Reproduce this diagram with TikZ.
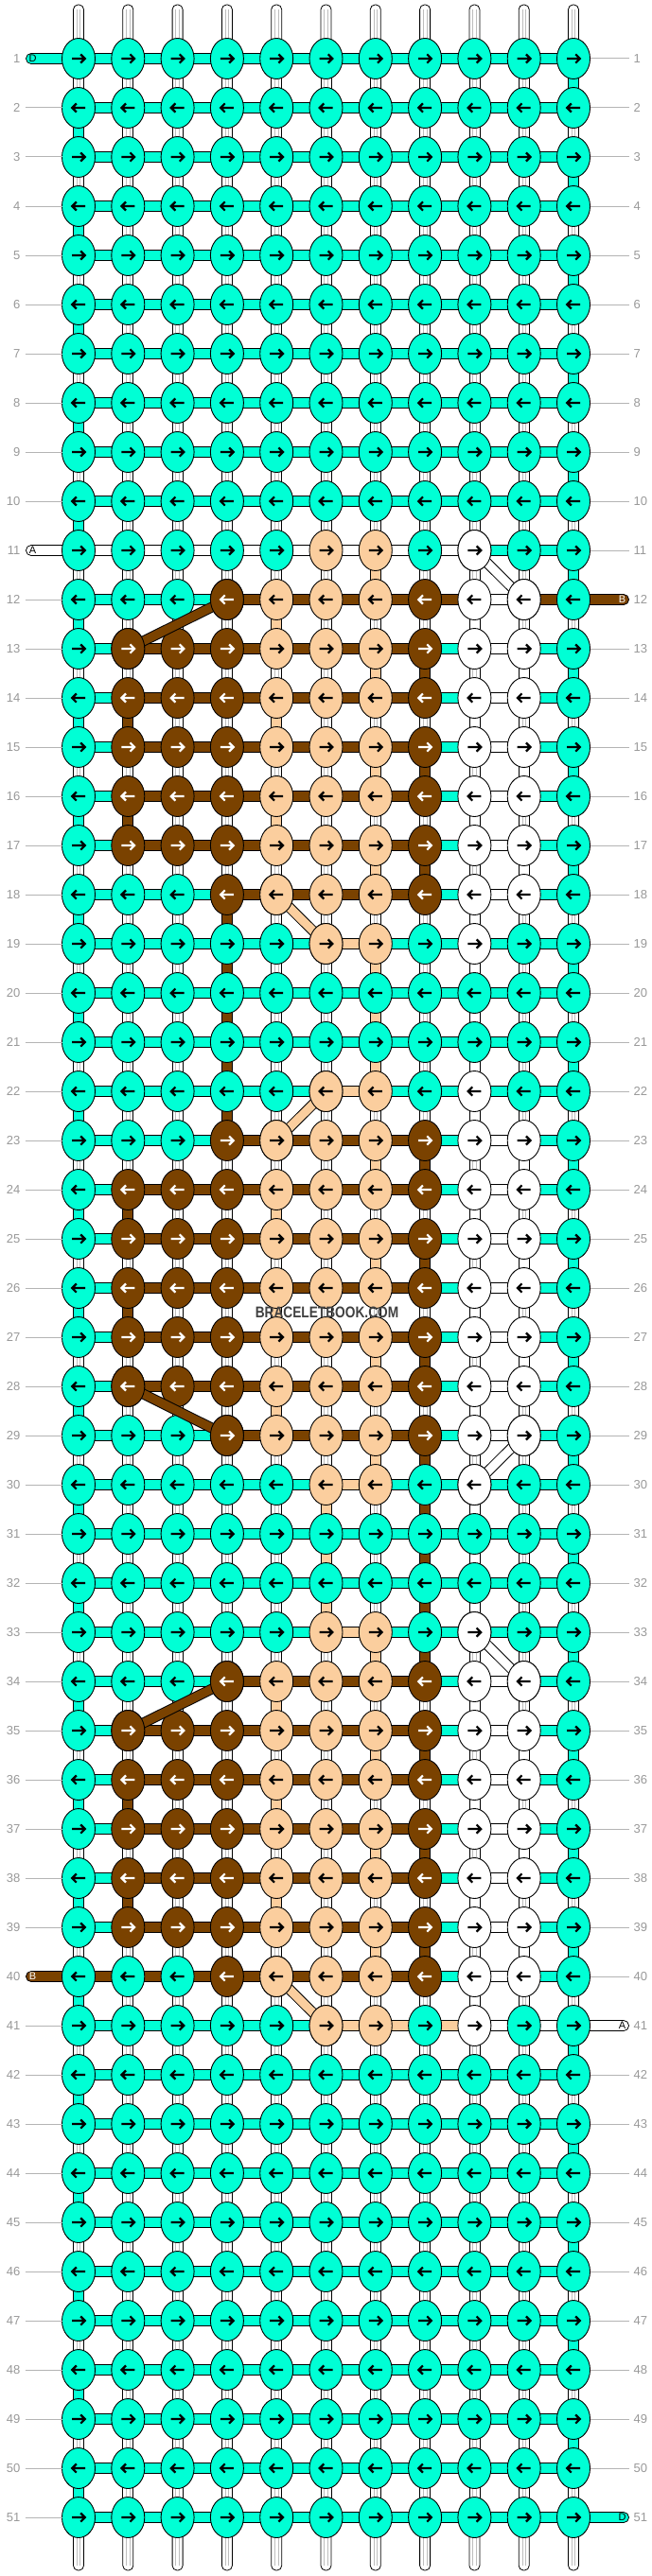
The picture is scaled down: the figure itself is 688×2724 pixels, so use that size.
\documentclass[tikz,border=0pt]{standalone}
\usepackage{fontspec}
\setmainfont{Liberation Sans}
\usetikzlibrary{shapes.geometric,calc}
\definecolor{colc}{HTML}{00FFD5}
\definecolor{colb}{HTML}{7A4200}
\definecolor{colp}{HTML}{FBCE9E}
\definecolor{colw}{HTML}{FFFFFF}
\colorlet{colC}{colc}\colorlet{colB}{colb}\colorlet{colP}{colp}\colorlet{colW}{colw}
\definecolor{labgray}{HTML}{999999}
\definecolor{linegray}{HTML}{B4B4B4}
\definecolor{tubegray}{HTML}{BDBDBD}
\definecolor{wmark}{HTML}{404040}

\def\KC{C,C,C,C,C,C,C,C,C,C,C}
\def\KA{C,C,C,C,C,P,P,C,W,C,C}
\def\KB{C,C,C,B,P,P,P,B,W,W,C}
\def\KD{C,B,B,B,P,P,P,B,W,W,C}
\def\HC{c,c,c,c,c,c,c,c,c,c}
\def\HE{w,w,w,w,w,w,w,w,c,c}
\def\HT{c,c,c,b,b,b,b,b,w,b}
\def\HD{c,b,b,b,b,b,b,c,w,c}
\def\HB{c,c,c,b,b,b,b,c,w,c}
\def\HP{c,c,c,c,c,p,c,c,c,c}
\def\HF{b,b,b,b,b,b,b,c,w,c}
\def\HG{c,c,c,c,c,p,p,p,w,w}

\def\rowlist{1/\KC/\HC,2/\KC/\HC,3/\KC/\HC,4/\KC/\HC,5/\KC/\HC,6/\KC/\HC,7/\KC/\HC,8/\KC/\HC,9/\KC/\HC,10/\KC/\HC,
11/\KA/\HE,12/\KB/\HT,13/\KD/\HD,14/\KD/\HD,15/\KD/\HD,16/\KD/\HD,17/\KD/\HD,18/\KB/\HB,19/\KA/\HP,20/\KC/\HC,
21/\KC/\HC,22/\KA/\HP,23/\KB/\HB,24/\KD/\HD,25/\KD/\HD,26/\KD/\HD,27/\KD/\HD,28/\KD/\HD,29/\KB/\HB,30/\KA/\HP,
31/\KC/\HC,32/\KC/\HC,33/\KA/\HP,34/\KB/\HB,35/\KD/\HD,36/\KD/\HD,37/\KD/\HD,38/\KD/\HD,39/\KD/\HD,40/\KB/\HF,
41/\KA/\HG,42/\KC/\HC,43/\KC/\HC,44/\KC/\HC,45/\KC/\HC,46/\KC/\HC,47/\KC/\HC,48/\KC/\HC,49/\KC/\HC,50/\KC/\HC,51/\KC/\HC}

\tikzset{
  knot/.style={ellipse, draw=black, line width=0.9pt, minimum width=35pt, minimum height=43pt, inner sep=0pt, outer sep=0pt},
  arrowst/.style={line width=2.2pt, line join=miter, line cap=butt},
  band/.style={draw=black, line width=0.8pt},
  lab/.style={labgray, font=\fontsize{13}{13}\selectfont, inner sep=0pt},
  endlab/.style={font=\fontsize{11}{11}\selectfont, inner sep=0pt},
}

\newcommand\knotdraw[3]{%
  \node[knot, fill=col#3] (k#1-#2) at (p#1-#2) {};
  \if#3B\def\acol{white}\else\def\acol{black}\fi
  \ifodd#1\relax\def\adir{1}\else\def\adir{-1}\fi
  \draw[arrowst, color=\acol, shift={(p#1-#2)}, xscale=\adir] (-7,0) -- (6,0) (2.2,-4.6) -- (6.8,0) -- (2.2,4.6);
}
\newcommand\vconn[3]{%
  \pgfmathtruncatemacro\rn{#1+1}
  \filldraw[band, fill=col#3] ($(p#1-#2)+(-5.5,0)$) rectangle ($(p\rn-#2)+(5.5,0)$);
}
\newcommand\diagband[5]{%
  \draw[line width=11pt, black] (p#1-#2) -- (p#3-#4);
  \draw[line width=9pt, color=col#5] (p#1-#2) -- (p#3-#4);
}

\begin{document}
\begin{tikzpicture}[x=1pt,y=-1pt]
\useasboundingbox (0,0) rectangle (688,2724);
\fill[white] (0,0) rectangle (688,2724);

% grid coordinates
\foreach \ri in {1,...,51} {
  \foreach \ci in {1,...,11} {
    \coordinate (p\ri-\ci) at ({83+(\ci-1)*52.3},{62+(\ri-1)*52});
  }
}

% top and bottom tubes
\foreach \ci in {1,...,11} {
  \filldraw[band, fill=white, rounded corners=5pt] ($(p1-\ci)+(-5.5,0)$) -- ($(p1-\ci)+(-5.5,-57)$) -- ($(p1-\ci)+(5.5,-57)$) -- ($(p1-\ci)+(5.5,0)$);
  \draw[tubegray, line width=0.7pt] ($(p1-\ci)+(-1.8,-52)$) -- ($(p1-\ci)+(-1.8,0)$) ($(p1-\ci)+(1.8,-52)$) -- ($(p1-\ci)+(1.8,0)$);
  \filldraw[band, fill=white, rounded corners=5pt] ($(p51-\ci)+(-5.5,0)$) -- ($(p51-\ci)+(-5.5,56)$) -- ($(p51-\ci)+(5.5,56)$) -- ($(p51-\ci)+(5.5,0)$);
  \draw[tubegray, line width=0.7pt] ($(p51-\ci)+(-1.8,51)$) -- ($(p51-\ci)+(-1.8,0)$) ($(p51-\ci)+(1.8,51)$) -- ($(p51-\ci)+(1.8,0)$);
}

% default vertical connectors (base strings)
\foreach \ri in {1,...,50} {
  \pgfmathtruncatemacro\rn{\ri+1}
  \foreach \ci in {1,...,11} {
    \filldraw[band, fill=white] ($(p\ri-\ci)+(-5.5,0)$) rectangle ($(p\rn-\ci)+(5.5,0)$);
    \draw[tubegray, line width=0.7pt] ($(p\ri-\ci)+(-1.8,0)$) -- ($(p\rn-\ci)+(-1.8,0)$) ($(p\ri-\ci)+(1.8,0)$) -- ($(p\rn-\ci)+(1.8,0)$);
  }
}
% turning connectors
\foreach \ri in {1,3,...,49} {\vconn{\ri}{11}{c}}
\foreach \ri in {2,4,...,50} {\vconn{\ri}{1}{c}}
\foreach \ri/\ci in {13/8,14/2,15/8,16/2,17/8,18/4,19/4,20/4,21/4,22/4,23/8,24/2,25/8,26/2,27/8,29/8,30/8,31/8,32/8,33/8,35/8,36/2,37/8,38/2,39/8} {\vconn{\ri}{\ci}{b}}
\foreach \ri/\ci in {11/7,12/5,13/7,14/5,15/7,16/5,17/7,19/7,20/7,21/7,23/7,24/5,25/7,26/5,27/7,28/5,29/7,30/6,31/6,32/6,33/7,34/5,35/7,36/5,37/7,38/5,39/7} {\vconn{\ri}{\ci}{p}}
\foreach \ri/\ci in {12/9,13/10,14/9,15/10,16/9,17/10,18/9,19/9,20/9,21/9,22/9,23/10,24/9,25/10,26/9,27/10,28/9,30/9,31/9,32/9,34/9,35/10,36/9,37/10,38/9,39/10,40/9} {\vconn{\ri}{\ci}{w}}

% horizontal bands
\foreach \ri/\kl/\hl in \rowlist {
  \edef\HH{\hl}
  \foreach \hs [count=\ji] in \HH {
    \pgfmathtruncatemacro\jn{\ji+1}
    \filldraw[band, fill=col\hs] ($(p\ri-\ji)+(0,-5.5)$) rectangle ($(p\ri-\jn)+(0,5.5)$);
  }
}

% end bands with string letters
\filldraw[band, fill=colc, rounded corners=5.4pt] ($(p1-1)+(0,-5.5)$) -- ($(p1-1)+(-55.5,-5.5)$) -- ($(p1-1)+(-55.5,5.5)$) -- ($(p1-1)+(0,5.5)$) -- cycle;
\node[endlab] (eD1) at ($(p1-1)+(-48.5,0)$) {D};
\filldraw[band, fill=colw, rounded corners=5.4pt] ($(p11-1)+(0,-5.5)$) -- ($(p11-1)+(-55.5,-5.5)$) -- ($(p11-1)+(-55.5,5.5)$) -- ($(p11-1)+(0,5.5)$) -- cycle;
\node[endlab] (eA1) at ($(p11-1)+(-48.5,0)$) {A};
\filldraw[band, fill=colb, rounded corners=5.4pt] ($(p40-1)+(0,-5.5)$) -- ($(p40-1)+(-55.5,-5.5)$) -- ($(p40-1)+(-55.5,5.5)$) -- ($(p40-1)+(0,5.5)$) -- cycle;
\node[endlab, white] (eB1) at ($(p40-1)+(-48.5,0)$) {B};
\filldraw[band, fill=colb, rounded corners=5.4pt] ($(p12-11)+(0,-5.5)$) -- ($(p12-11)+(58.5,-5.5)$) -- ($(p12-11)+(58.5,5.5)$) -- ($(p12-11)+(0,5.5)$) -- cycle;
\node[endlab, white] (eB2) at ($(p12-11)+(51.5,0)$) {B};
\filldraw[band, fill=colw, rounded corners=5.4pt] ($(p41-11)+(0,-5.5)$) -- ($(p41-11)+(58.5,-5.5)$) -- ($(p41-11)+(58.5,5.5)$) -- ($(p41-11)+(0,5.5)$) -- cycle;
\node[endlab] (eA2) at ($(p41-11)+(51.5,0)$) {A};
\filldraw[band, fill=colc, rounded corners=5.4pt] ($(p51-11)+(0,-5.5)$) -- ($(p51-11)+(58.5,-5.5)$) -- ($(p51-11)+(58.5,5.5)$) -- ($(p51-11)+(0,5.5)$) -- cycle;
\node[endlab] (eD2) at ($(p51-11)+(51.5,0)$) {D};

% knots
\foreach \ri/\kl/\hl in \rowlist {
  \edef\KK{\kl}
  \foreach \ks [count=\ci] in \KK {\knotdraw{\ri}{\ci}{\ks}}
}

% diagonal string moves
\diagband{11}{9}{12}{10}{w}
\diagband{29}{10}{30}{9}{w}
\diagband{33}{9}{34}{10}{w}
\diagband{12}{4}{13}{2}{b}
\diagband{28}{2}{29}{4}{b}
\diagband{34}{4}{35}{2}{b}
\diagband{18}{5}{19}{6}{p}
\diagband{22}{6}{23}{5}{p}
\diagband{40}{5}{41}{6}{p}
\foreach \ri/\ci/\ks in {11/9/W,12/10/W,29/10/W,30/9/W,33/9/W,34/10/W,12/4/B,13/2/B,28/2/B,29/4/B,34/4/B,35/2/B,18/5/P,19/6/P,22/6/P,23/5/P,40/5/P,41/6/P} {\knotdraw{\ri}{\ci}{\ks}}

% row labels
\foreach \ri in {1,...,51} {
  \node[lab, anchor=east] (ll\ri) at ($(p\ri-1)+(-61.5,0)$) {\ri};
  \node[lab, anchor=west] (rl\ri) at ($(p\ri-11)+(63.5,0)$) {\ri};
}
\foreach \ri in {2,...,10,12,13,...,39,41,42,...,51} {
  \draw[linegray, line width=1pt] ($(p\ri-1)+(-56.5,0)$) -- ($(p\ri-1)+(-17.5,0)$);
}
\foreach \ri in {1,...,11,13,14,...,40,42,43,...,50} {
  \draw[linegray, line width=1pt] ($(p\ri-11)+(17.5,0)$) -- ($(p\ri-11)+(59,0)$);
}

% watermark
\node[wmark, font=\bfseries\fontsize{16.5}{16.5}\selectfont, inner sep=0pt] (wm) at (345.5,1388) {\scalebox{0.83}[1]{BRACELETBOOK.COM}};
\end{tikzpicture}
\end{document}
